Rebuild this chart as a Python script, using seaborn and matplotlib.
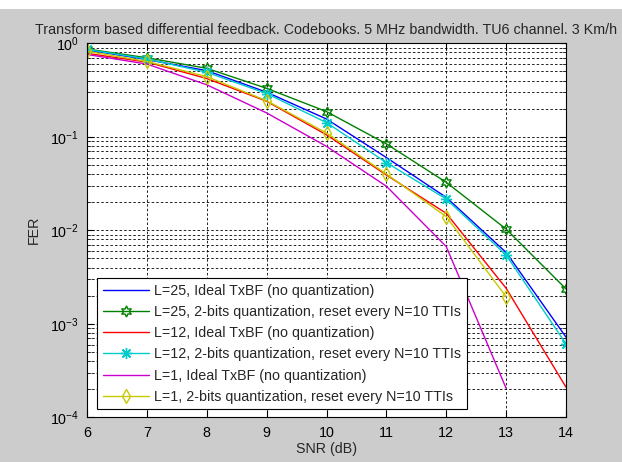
import numpy as np
import pandas as pd
import matplotlib
matplotlib.use("Agg")
import matplotlib.pyplot as plt
import seaborn as sns
from matplotlib.patches import Rectangle
from matplotlib.ticker import LogLocator, NullFormatter

# ---- data ----
snr = [6, 7, 8, 9, 10, 11, 12, 13, 14]
snr_short = [6, 7, 8, 9, 10, 11, 12, 13]
l25_ideal = [0.85, 0.67, 0.51, 0.30, 0.155, 0.060, 0.0225, 0.0058, 0.00072]
l25_quant = [0.87, 0.70, 0.54, 0.33, 0.186, 0.084, 0.0326, 0.0103, 0.00236]
l12_ideal = [0.78, 0.63, 0.42, 0.24, 0.105, 0.039, 0.0152, 0.0024, 0.00021]
l12_quant = [0.86, 0.68, 0.49, 0.29, 0.142, 0.053, 0.0216, 0.00544, 0.00061]
l1_ideal = [0.76, 0.60, 0.36, 0.18, 0.079, 0.0296, 0.0067, 0.000204]
l1_quant = [0.82, 0.64, 0.44, 0.243, 0.11, 0.040, 0.014, 0.00195]

labels = [
    "L=25, Ideal TxBF (no quantization)",
    "L=25, 2-bits quantization, reset every N=10 TTIs",
    "L=12, Ideal TxBF (no quantization)",
    "L=12, 2-bits quantization, reset every N=10 TTIs",
    "L=1, Ideal TxBF (no quantization)",
    "L=1, 2-bits quantization, reset every N=10 TTIs",
]
title = "Transform based differential feedback. Codebooks. 5 MHz bandwidth. TU6 channel. 3 Km/h"
xlabel = "SNR (dB)"
ylabel = "FER"

series = [
    (snr, l25_ideal, "#0000ff", None, 0),
    (snr, l25_quant, "#008000", (6, 1, 0), 8),
    (snr, l12_ideal, "#ff0000", None, 0),
    (snr, l12_quant, "#00cccc", (8, 2, 0), 8),
    (snr_short, l1_ideal, "#cc00cc", None, 0),
    (snr_short, l1_quant, "#c8c800", "d", 7),
]

FS = 10.3

sns.set_style("ticks")
plt.rcParams["font.family"] = ["Liberation Sans", "DejaVu Sans"]
plt.rcParams["mathtext.fontset"] = "custom"
plt.rcParams["mathtext.rm"] = "Liberation Sans"
plt.rcParams["mathtext.it"] = "Liberation Sans"

fig = plt.figure(figsize=(6.22, 4.62), dpi=100, facecolor="#cccccc")
fig.add_artist(Rectangle((0, 1 - 9 / 462), 1, 9 / 462, transform=fig.transFigure,
                         facecolor="white", edgecolor="none"))
ax = fig.add_axes([87 / 622, 1 - 417.3 / 462, 479 / 622, 374 / 462])
ax.set_facecolor("white")

for (x, y, c, m, ms), lab in zip(series, labels):
    df = pd.DataFrame({"x": x, "y": y})
    kw = dict(color=c, linewidth=1.0, label=lab)
    if m is not None:
        kw.update(marker=m, markersize=ms, markerfacecolor="none",
                  markeredgecolor=c, markeredgewidth=1.0)
    sns.lineplot(data=df, x="x", y="y", ax=ax, errorbar=None, **kw)

ax.set_yscale("log")
ax.set_xlim(6, 14)
ax.set_ylim(1e-4, 1)
ax.set_xticks(snr)
ax.set_xticklabels([str(v) for v in snr])
ax.yaxis.set_major_locator(LogLocator(base=10, numticks=10))
ax.yaxis.set_minor_locator(LogLocator(base=10, subs=np.arange(2, 10), numticks=20))
ax.yaxis.set_minor_formatter(NullFormatter())

grid_kw = dict(color="black", linestyle=(0, (3, 2.5)), linewidth=0.6)
ax.grid(True, which="major", axis="both", **grid_kw)
ax.grid(True, which="minor", axis="y", **grid_kw)

for s in ax.spines.values():
    s.set_color("black")
    s.set_linewidth(0.8)
ax.tick_params(which="major", direction="in", length=5, width=0.8, top=True, right=True,
               labelsize=FS, colors="black", pad=6)
ax.tick_params(which="minor", direction="in", length=3, width=0.6, top=True, right=True)

ax.set_xlabel(xlabel, fontsize=FS, labelpad=2)
ax.set_ylabel(ylabel, fontsize=FS, labelpad=6)
ax.set_title(title, fontsize=FS, pad=7)

leg = ax.legend(loc="lower left", bbox_to_anchor=(0.021, 0.021), borderaxespad=0,
                fontsize=FS, frameon=True, fancybox=False, framealpha=1,
                edgecolor="black", handlelength=3.2, handletextpad=0.4,
                labelspacing=0.5, numpoints=1, borderpad=0.4)
leg.get_frame().set_linewidth(0.8)

fig.savefig("out.png", dpi=100, facecolor=fig.get_facecolor())
